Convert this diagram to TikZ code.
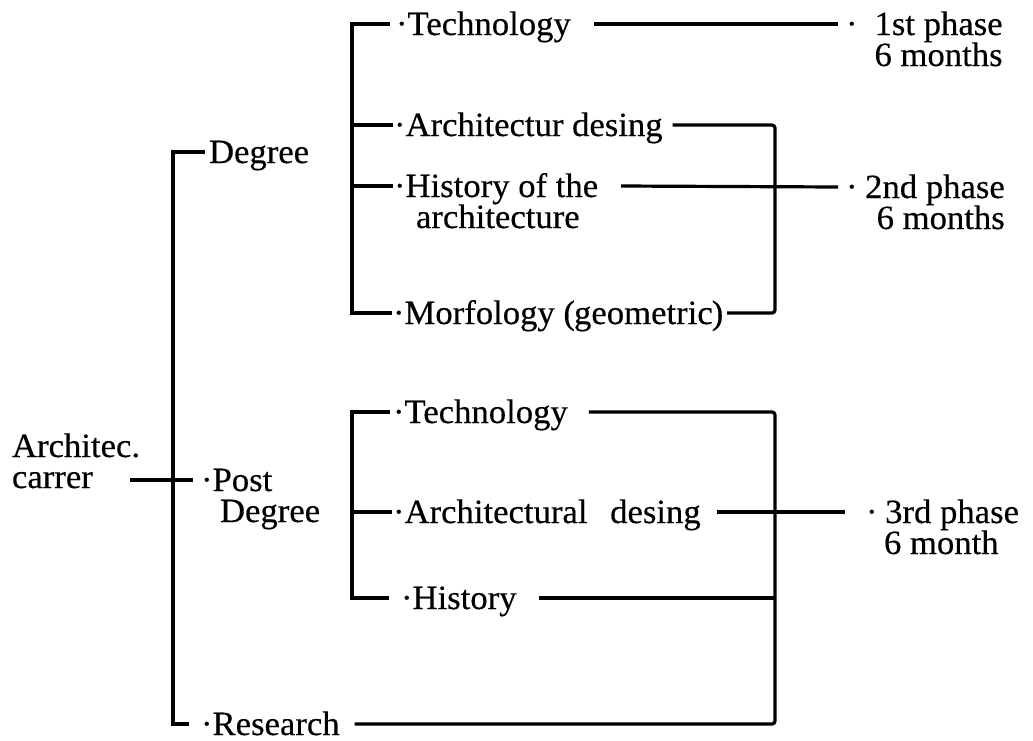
\documentclass[tikz,border=0pt]{standalone}
\usepackage{fontspec}
\setmainfont{Liberation Serif}[FakeStretch=1.02,FakeBold=0.4]
\newcommand{\ltwo}[2]{\vtop{\halign{##\hfil\cr#1\cr#2\cr}}}
\newcommand{\rtwo}[2]{\vtop{\halign{\hfil##\cr#1\cr#2\cr}}}
\begin{document}
\begin{tikzpicture}[x=0.5pt,y=-0.5pt,
  txt/.style={inner sep=0pt,outer sep=0pt,anchor=base west,
    font=\fontsize{17}{15.5}\selectfont},
  ln/.style={line width=1.6pt,line cap=butt},
  rc/.style={ln,rounded corners=1.5pt}]
\useasboundingbox (0,0) rectangle (1033,740);

% text nodes
\node[txt] (arch) at (12,457) {\ltwo{Architec.}{carrer}};
\node[txt] (deg)  at (209,163) {Degree};
\node[txt] (post) at (201,491) {\ltwo{·Post}{\hspace{9.5pt}Degree}};
\node[txt] (res)  at (201,735) {·Research};

\node[txt] (t1) at (396,35)  {·Technology};
\node[txt] (a1) at (394,136) {·Architectur desing};
\node[txt] (h1) at (394,197) {\ltwo{·History of the}{\hspace{11pt}architecture}};
\node[txt] (m1) at (393,324) {·Morfology (\kern-0.5pt geometric\kern-0.5pt)};

\node[txt] (p1) at (846,35)  {\rtwo{·\hspace{8.5pt}1st phase}{6 months}};
\node[txt] (p2) at (846,198) {\rtwo{·\hspace{3.8pt}2nd phase}{6 months}};

\node[txt] (t2)  at (393,423) {·Technology};
\node[txt] (a2)  at (393,523) {·Architectural\hspace{7pt} desing};
\node[txt] (hi2) at (401,609) {·History};
\node[txt] (p3)  at (866,523) {\ltwo{·\hspace{3.8pt}3rd phase}{\hspace{9pt}6 month}};

% line anchors (mid-height of first line)
\foreach \n in {deg,post,res,t1,a1,h1,m1,p1,p2,t2,a2,hi2,p3}{
  \coordinate (\n L) at ([yshift=5.5pt]\n.base west);
  \coordinate (\n R) at ([yshift=5.5pt]\n.base east);
}
\coordinate (a0) at (130,480);
\coordinate (jA) at (173,480);
\coordinate (s1) at (352,150);
\coordinate (s2) at (352,512);
\coordinate (r1) at (775,187);
\coordinate (r2) at (775,598);

% main bracket
\draw[ln] ([xshift=-2pt]degL) -| (jA) |- ([xshift=-6pt]resL);
\draw[ln] (a0) -- ([xshift=-4pt]postL);

% degree sub-bracket
\draw[ln] ([xshift=-3pt]t1L) -| (s1) |- ([xshift=-0.5pt]m1L);
\draw[ln] (s1 |- a1L) -- ([xshift=-0.5pt]a1L);
\draw[ln] (s1 |- h1L) -- ([xshift=-0.5pt]h1L);
\draw[ln] ([xshift=11.5pt]t1R) -- ([xshift=-4pt]p1L);
\draw[rc] ([xshift=5pt]a1R) -| (r1) |- ([xshift=2pt]m1R);
\draw[ln] ([xshift=11.5pt]h1R) -- ([xshift=-4pt]p2L);

% post degree sub-bracket
\draw[ln] ([xshift=-1.5pt]t2L) -| (s2) |- ([xshift=-6pt]hi2L);
\draw[ln] (s2 |- a2L) -- ([xshift=-0.5pt]a2L);
\draw[rc] ([xshift=10.5pt]t2R) -| (r2) |- ([xshift=7.5pt]resR);
\draw[ln] ([xshift=11pt]hi2R) -- (r2);
\draw[ln] ([xshift=8pt]a2R) -- ([xshift=-10.5pt]p3L);
\end{tikzpicture}
\end{document}
